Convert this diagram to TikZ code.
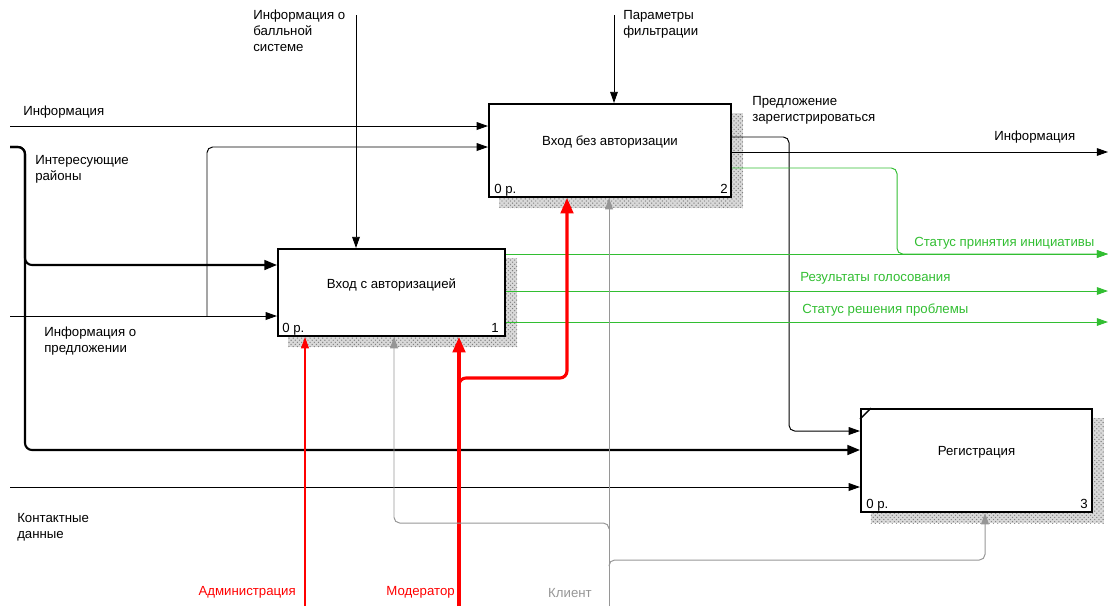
\documentclass[tikz,border=0pt]{standalone}
\usepackage{fontspec}
\setmainfont{Liberation Sans}
\usetikzlibrary{positioning,arrows.meta,calc,patterns,backgrounds}
\definecolor{flowgreen}{RGB}{50,190,50}
\definecolor{callgray}{RGB}{150,150,150}

\begin{document}
\begin{tikzpicture}[x=0.025cm,y=-0.025cm,
  font=\fontsize{9.4}{11.4}\selectfont,
  box/.style={draw,line width=1.4pt,fill=white,inner sep=0pt},
  lbl/.style={inner sep=0pt,align=left},
  arr/.style={-{Triangle[length=8pt,width=5.5pt]},line width=0.7pt,rounded corners=4pt},
  thickarr/.style={-{Triangle[length=9pt,width=7pt]},line width=1.5pt,rounded corners=5pt},
  garr/.style={arr,flowgreen},
  redarr/.style={arr,red,line width=0.8pt},
  redthick/.style={-{Triangle[length=11pt,width=9pt]},red,line width=2.2pt,rounded corners=5pt},
  grayarr/.style={arr,callgray}]
  \useasboundingbox (0,0) rectangle (1110,606);
  % function boxes
  \node[box,minimum width=5.675cm,minimum height=2.175cm] (b1) at (391.5,292.5) {};
  \node[box,minimum width=6.05cm,minimum height=2.325cm] (b2) at (610,150.5) {};
  \node[box,minimum width=5.775cm,minimum height=2.575cm] (b3) at (976.5,460.5) {};
  \draw[line width=1pt] ($(b3.north west)+(0,11)$) -- ($(b3.north west)+(11,0)$);
  \begin{scope}[on background layer]
    \foreach \b in {b1,b2,b3}{
      \fill[gray!30] ([shift={(11,10)}]\b.south west) rectangle ([shift={(11,10)}]\b.north east);
      \fill[pattern=crosshatch dots,pattern color=gray] ([shift={(11,10)}]\b.south west) rectangle ([shift={(11,10)}]\b.north east);}
  \end{scope}
  \node[anchor=base] (t1) at ($(b1.center)+(0,-4.5)$) {Вход с авторизацией};
  \node[anchor=base] (t2) at ($(b2.center)+(0,-5.5)$) {Вход без авторизации};
  \node[anchor=base] (t3) at ($(b3.center)+(0,-5.5)$) {Регистрация};
  \node[anchor=base west,inner sep=0pt] (c1) at ($(b1.south west)+(5,-5)$) {0 р.};
  \node[anchor=base east,inner sep=0pt] (n1) at ($(b1.south east)+(-7,-5)$) {1};
  \node[anchor=base west,inner sep=0pt] (c2) at ($(b2.south west)+(6,-5)$) {0 р.};
  \node[anchor=base east,inner sep=0pt] (n2) at ($(b2.south east)+(-4,-5)$) {2};
  \node[anchor=base west,inner sep=0pt] (c3) at ($(b3.south west)+(6,-5)$) {0 р.};
  \node[anchor=base east,inner sep=0pt] (n3) at ($(b3.south east)+(-5,-5)$) {3};
  % free ends
  \coordinate (infoin) at (10,126);
  \coordinate (rayin) at (10,147);
  \coordinate (predin) at (10,316);
  \coordinate (contin) at (10,487);
  \coordinate (ballin) at (356,15);
  \coordinate (filtin) at (614,15);
  \coordinate (infoout) at (1108,152);
  \coordinate (statout) at (1108,254);
  \coordinate (golout) at (1108,291);
  \coordinate (reshout) at (1108,322);
  \coordinate (admin) at (305,606);
  \coordinate (moder) at (459,606);
  \coordinate (klient) at (609,606);
  % inputs
  \draw[arr] (infoin) -- (infoin -| b2.west);
  \draw[arr] (predin) -- (predin -| b1.west);
  \draw[arr] (predin -| 207,0) |- (rayin -| b2.west);
  \draw[thickarr] (rayin) -| (25,265) -- (b1.west |- 0,265);
  \draw[thickarr] (rayin) -| (25,450) -- (b3.west |- 0,450);
  \draw[arr] (contin) -- (contin -| b3.west);
  \draw[arr] (b2.east |- 0,137) -| (789,431) -- (b3.west |- 0,431);
  % controls
  \draw[arr] (ballin) -- (ballin |- b1.north);
  \draw[arr] (filtin) -- (filtin |- b2.north);
  % outputs
  \draw[arr] (b2.east |- infoout) -- (infoout);
  \draw[garr] (b2.east |- 0,168) -| (897,254) -- (statout);
  \draw[garr] (b1.east |- statout) -- (statout);
  \draw[garr] (b1.east |- golout) -- (golout);
  \draw[garr] (b1.east |- reshout) -- (reshout);
  % mechanisms
  \draw[redarr] (admin) -- (admin |- b1.south);
  \draw[redthick] (moder) -- (moder |- b1.south);
  \draw[redthick] (moder |- 0,384) -- (moder |- 0,378) -| (b2.south -| 567,0);
  \draw[grayarr] (klient) -- (klient |- b2.south);
  \draw[grayarr] (klient |- 0,529) -- (klient |- 0,523) -| (b1.south -| 394,0);
  \draw[grayarr] (klient |- 0,566) -- (klient |- 0,560) -| (b3.south -| 985,0);
  % labels
  \node[lbl,anchor=base west] (linfo) at (23,115) {Информация};
  \node[lbl,anchor=north west] (lray) at (35,155) {Интересующие\\районы};
  \node[lbl,anchor=north west] (lpred) at (44,327) {Информация о\\предложении};
  \node[lbl,anchor=north west] (lcont) at (17,513) {Контактные\\данные};
  \node[lbl,anchor=north west] (lball) at (253,10) {Информация о\\балльной\\системе};
  \node[lbl,anchor=north west] (lfilt) at (623,10) {Параметры\\фильтрации};
  \node[lbl,anchor=north west] (lreg) at (752,96) {Предложение\\зарегистрироваться};
  \node[lbl,anchor=base west] (linfoout) at (994,140) {Информация};
  \node[lbl,anchor=base west,flowgreen] (lstat) at (914,246) {Статус принятия инициативы};
  \node[lbl,anchor=base west,flowgreen] (lgol) at (800,281) {Результаты голосования};
  \node[lbl,anchor=base west,flowgreen] (lresh) at (802,313) {Статус решения проблемы};
  \node[lbl,anchor=base east,red] (ladm) at (296,595) {Администрация};
  \node[lbl,anchor=base east,red] (lmod) at (455,595) {Модератор};
  \node[lbl,anchor=base east,callgray] (lkl) at (592,597) {Клиент};
\end{tikzpicture}
\end{document}
